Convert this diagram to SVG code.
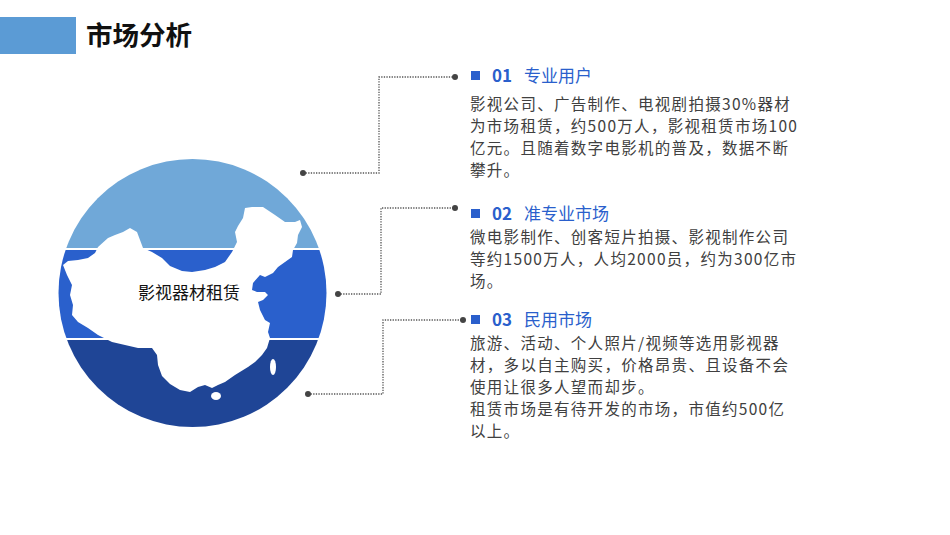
<svg xmlns="http://www.w3.org/2000/svg" width="950" height="535" viewBox="0 0 950 535">
<style>
.t{font-family:"Noto Sans CJK SC","Noto Sans",sans-serif}
.title{font-size:26.5px;font-weight:bold;fill:#111}
.hd{font-size:17px;fill:#2a5fcc}
.num{font-weight:bold}
.body{font-size:15.5px;letter-spacing:1.3px;fill:#404040}
.lbl{font-size:17px;fill:#111}
.con{fill:none;stroke:#555;stroke-width:1.3;stroke-dasharray:1.3 1.3}
.dot{fill:#444}
.sq{fill:#2a5fcc}
</style>
<defs>
<clipPath id="cc"><circle cx="192.5" cy="293" r="134"/></clipPath>
</defs>
<rect x="0" y="17" width="76" height="37" fill="#5b9bd5"/>
<text class="t title" x="86" y="45">市场分析</text>

<g id="globe">
<g clip-path="url(#cc)">
<rect x="50" y="150" width="290" height="98" fill="#70a8d8"/>
<rect x="50" y="250" width="290" height="88" fill="#2a60cc"/>
<rect x="50" y="340" width="290" height="100" fill="#1f4596"/>
</g>
<path fill="#fff" d="M63,265 L68,261 L78,260 L88,258 L95,253 L98,247 L108,238 L115,235 L123,232 L130,228 L137,232 L140,240 L143,248 L152,252 L162,258 L170,266 L182,271 L192,272 L205,270 L215,267 L225,262 L232,252 L237,242 L235,232 L238,226 L243,218 L245,208 L252,207 L263,207 L275,215 L285,222 L295,222 L300,220 L302,227 L298,235 L297,243 L293,250 L292,257 L285,262 L278,267 L273,273 L265,277 L260,275 L253,283 L252,290 L257,292 L265,292 L268,295 L263,300 L258,302 L260,310 L265,320 L270,323 L268,332 L270,338 L267,348 L262,355 L255,362 L248,367 L235,375 L225,382 L218,385 L212,388 L205,385 L198,387 L190,392 L180,390 L170,384 L162,376 L158,365 L157,355 L152,348 L138,348 L125,345 L112,342 L98,335 L88,328 L78,322 L72,315 L73,305 L70,295 L72,285 L67,275 Z"/>
<ellipse cx="273" cy="367" rx="3" ry="8" fill="#fff"/>
<ellipse cx="216" cy="396" rx="5" ry="4" fill="#fff"/>
<text class="t lbl" x="138" y="299">影视器材租赁</text>
</g>

<g id="connectors">
<polyline class="con" points="303,173 379,173 379,77 455,77"/>
<circle class="dot" cx="303" cy="173" r="3"/>
<circle class="dot" cx="455" cy="77" r="3"/>
<polyline class="con" points="338,294 381,294 381,208 455,208"/>
<circle class="dot" cx="338" cy="294" r="3"/>
<circle class="dot" cx="455" cy="208" r="3"/>
<polyline class="con" points="308,394 383,394 383,320 463,320"/>
<circle class="dot" cx="308" cy="394" r="3"/>
<circle class="dot" cx="463" cy="320" r="3"/>
</g>

<g id="item1">
<rect class="sq" x="471" y="71" width="9" height="9"/>
<text class="t hd" x="492" y="82"><tspan class="num">01</tspan><tspan x="524">专业用户</tspan></text>
<text class="t body" x="470" y="110">影视公司、广告制作、电视剧拍摄30%器材</text>
<text class="t body" x="470" y="132">为市场租赁，约500万人，影视租赁市场100</text>
<text class="t body" x="470" y="154">亿元。且随着数字电影机的普及，数据不断</text>
<text class="t body" x="470" y="176">攀升。</text>
</g>

<g id="item2">
<rect class="sq" x="471" y="209" width="9" height="9"/>
<text class="t hd" x="492" y="220"><tspan class="num">02</tspan><tspan x="524">准专业市场</tspan></text>
<text class="t body" x="470" y="243">微电影制作、创客短片拍摄、影视制作公司</text>
<text class="t body" x="470" y="265">等约1500万人，人均2000员，约为300亿市</text>
<text class="t body" x="470" y="287">场。</text>
</g>

<g id="item3">
<rect class="sq" x="471" y="315" width="9" height="9"/>
<text class="t hd" x="492" y="326"><tspan class="num">03</tspan><tspan x="524">民用市场</tspan></text>
<text class="t body" x="470" y="349">旅游、活动、个人照片/视频等选用影视器</text>
<text class="t body" x="470" y="371">材，多以自主购买，价格昂贵、且设备不会</text>
<text class="t body" x="470" y="393">使用让很多人望而却步。</text>
<text class="t body" x="470" y="415">租赁市场是有待开发的市场，市值约500亿</text>
<text class="t body" x="470" y="437">以上。</text>
</g>
</svg>
